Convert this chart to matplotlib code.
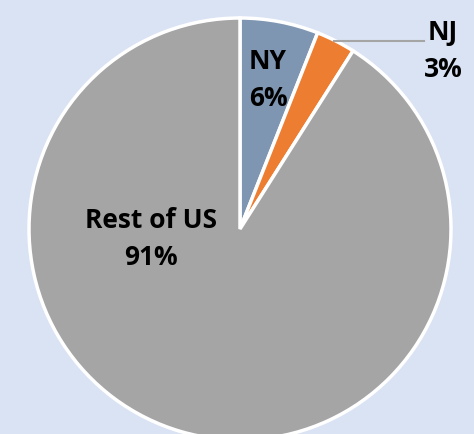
import matplotlib
matplotlib.use("Agg")
import matplotlib.pyplot as plt

labels = ["NY", "NJ", "Rest of US"]
values = [6, 3, 91]
colors = ["#7F96B2", "#ED7D31", "#A5A5A5"]

W, H = 474, 434
fig = plt.figure(figsize=(W / 100, H / 100), dpi=100)
fig.patch.set_facecolor("#DAE3F3")
ax = fig.add_axes([0, 0, 1, 1])
ax.set_facecolor("#DAE3F3")

cx, cy, r = 240, H - 229, 211
wedges, _ = ax.pie(values, colors=colors, startangle=90, counterclock=False,
                   center=(cx, cy), radius=r, frame=True,
                   wedgeprops=dict(edgecolor="white", linewidth=2.5))
ax.set_xlim(0, W)
ax.set_ylim(0, H)
ax.set_aspect("equal")
ax.axis("off")

font = dict(family=["Open Sans", "DejaVu Sans"], fontsize=19, fontweight="bold",
            color="black", ha="center", va="center", linespacing=1.45)
ax.text(268, H - 80, f"{labels[0]}\n{values[0]}%", **font)
ax.text(443, H - 51, f"{labels[1]}\n{values[1]}%", **font)
ax.text(151, H - 239, f"{labels[2]}\n{values[2]}%", **font)
ax.plot([334, 424], [H - 41, H - 41], color="#A5A5A5", lw=1.5)

fig.savefig("out.png", dpi=100, facecolor=fig.get_facecolor())
